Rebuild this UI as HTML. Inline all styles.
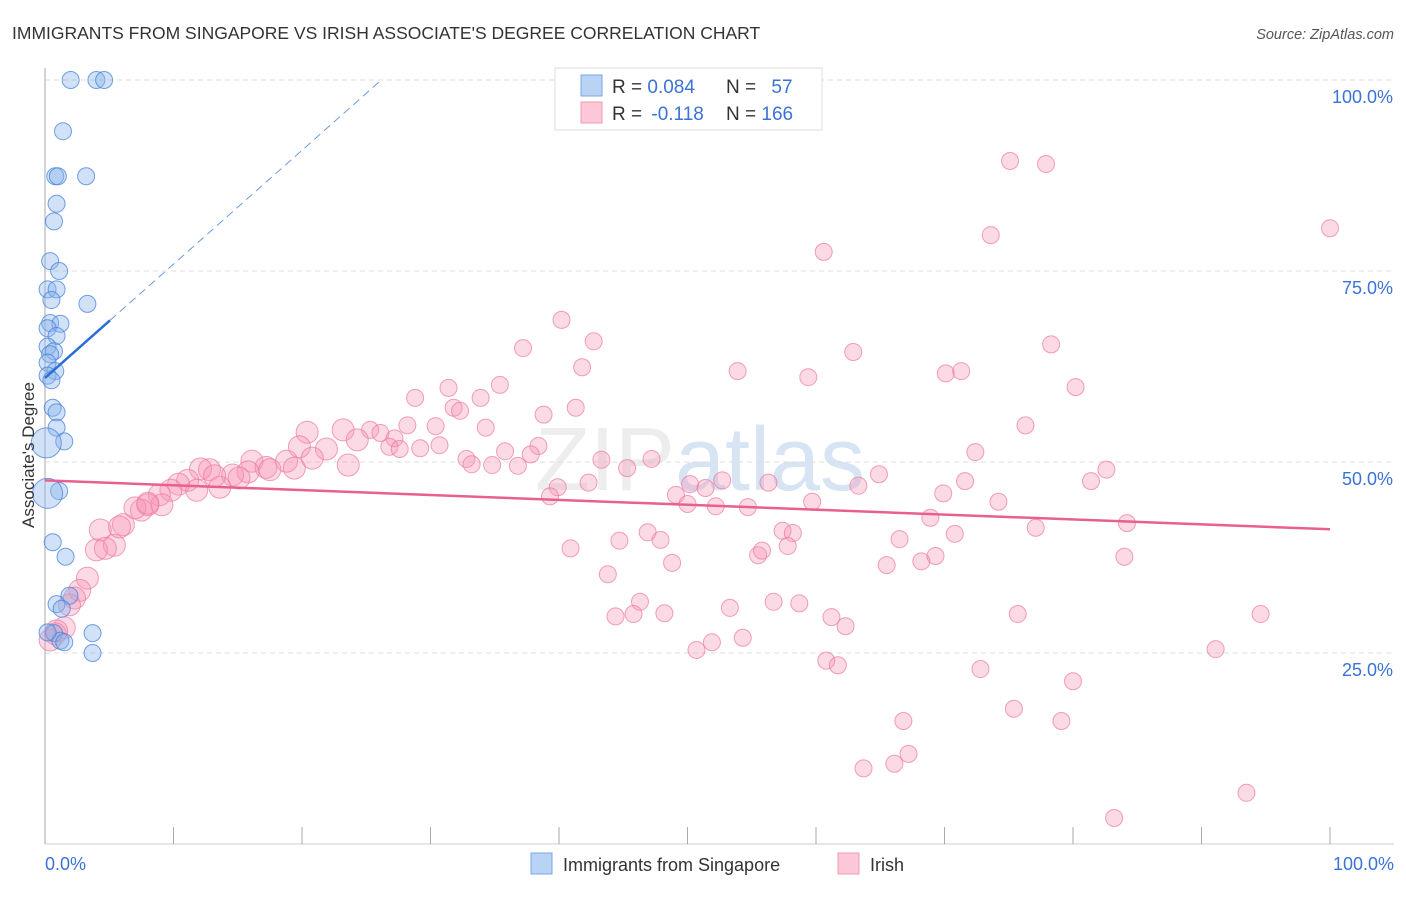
<!DOCTYPE html>
<html><head><meta charset="utf-8"><style>
body{margin:0;background:#fff;font-family:"Liberation Sans",sans-serif;}
svg text{font-family:"Liberation Sans",sans-serif;}
</style></head><body>
<svg width="1406" height="892" id="c">
<text x="12" y="39" font-size="17.5" fill="#333">IMMIGRANTS FROM SINGAPORE VS IRISH ASSOCIATE'S DEGREE CORRELATION CHART</text>
<text x="1394" y="39" font-size="14.5" fill="#555" font-style="italic" text-anchor="end">Source: ZipAtlas.com</text>
<text x="700" y="490" font-size="90" fill="#ccc" opacity="0.35" text-anchor="middle" font-family="Liberation Serif">ZIP<tspan font-family="Liberation Sans" fill="#8fb4e0">atlas</tspan></text>
<g id="grid"></g><g id="axes"></g><g id="pts"></g><g id="trend"></g>
<text transform="translate(34,455) rotate(-90)" font-size="17" fill="#333" text-anchor="middle">Associate's Degree</text>
<g>
<rect x="555" y="68" width="267" height="62" fill="#fff" stroke="#ddd"/>
<rect x="581" y="75" width="21" height="21" fill="#b9d3f5" stroke="#7aa6e6"/>
<rect x="581" y="102" width="21" height="21" fill="#fcc8d7" stroke="#f09ab3"/>
<text x="612" y="93" font-size="19" fill="#333">R = <tspan fill="#3a72d6">0.084</tspan></text>
<text x="726" y="93" font-size="19" fill="#333">N = <tspan fill="#3a72d6" dx="10">57</tspan></text>
<text x="612" y="120" font-size="19" fill="#333">R = <tspan fill="#3a72d6" dx="4">-0.118</tspan></text>
<text x="726" y="120" font-size="19" fill="#333">N = <tspan fill="#3a72d6">166</tspan></text>
</g>
<g>
<rect x="531" y="853" width="21" height="21" fill="#b9d3f5" stroke="#7aa6e6"/>
<text x="563" y="871" font-size="18" fill="#333">Immigrants from Singapore</text>
<rect x="838" y="853" width="21" height="21" fill="#fcc8d7" stroke="#f09ab3"/>
<text x="870" y="871" font-size="18" fill="#333">Irish</text>
</g>
</svg>
<script>
const blueX=[2.0,4.0,4.6,1.4,0.8,1.0,3.2,0.9,0.7,0.4,1.1,0.2,0.9,0.5,3.3,0.4,1.2,0.2,0.9,0.2,0.7,0.4,0.2,0.8,0.2,0.5,0.6,0.9,0.9,1.5,0.1,1.1,0.2,0.6,1.6,1.9,0.9,1.3,0.7,1.2,3.7,3.7,1.5,0.2];
const blueY=[100,100,100,93.3,87.4,87.4,87.4,83.8,81.5,76.3,75.0,72.6,72.6,71.2,70.7,68.2,68.1,67.5,66.5,65.1,64.5,64.1,63.0,61.9,61.3,60.7,57.1,56.5,54.5,52.7,52.5,46.2,45.9,39.5,37.6,32.5,31.4,30.8,27.6,26.6,27.6,25.0,26.4,27.7];
const blueBig=[30,32];
const pinkX=[75.1,77.9,100,60.6,73.6,40.2,42.7,37.2,41.8,62.9,53.9,59.4,70.1,71.3,78.3,80.2,28.8,31.4,35.4,33.9,31.8,32.3,38.8,41.3,34.3,30.4,28.2,20.4,23.2,25.3,26.1,27.2,30.7,19.8,21.9,24.3,26.8,29.2,27.6,38.4,35.8,37.8,32.8,34.8,36.8,43.3,47.2,45.3,33.2,23.6,16.1,17.2,18.8,19.4,20.8,15.8,17.5,14.6,15.1,12.8,12.1,13.6,13.2,11.1,10.4,11.8,9.8,8.9,9.1,8.0,7.5,7.0,6.1,4.3,5.4,4.0,4.7,3.3,2.7,2.3,1.9,1.5,0.8,0.4,64.9,63.3,56.3,52.7,50.2,49.1,50.0,51.4,52.2,54.7,59.7,39.9,39.3,42.3,72.4,71.6,69.9,74.2,76.3,82.6,81.4,84.2,84.0,68.9,66.5,70.8,77.1,57.4,58.2,55.5,55.8,57.8,46.9,47.9,44.7,40.9,48.8,43.8,65.5,68.2,69.3,46.3,44.4,45.8,48.2,53.3,56.7,58.7,61.2,62.3,75.7,94.6,50.7,51.9,54.3,60.8,61.7,72.8,91.1,80.0,66.8,75.4,79.1,67.2,66.1,63.7,93.5,83.2,8.0,5.8,0.9];
const pinkY=[89.4,89.0,80.6,77.5,79.7,68.6,65.8,64.9,62.4,64.4,61.9,61.1,61.6,61.9,65.4,59.8,58.4,59.7,60.1,58.4,57.1,56.7,56.2,57.1,54.5,54.7,54.8,53.9,54.2,54.2,53.8,53.1,52.2,52.0,51.7,52.9,52.0,51.8,51.7,52.1,51.4,51.0,50.4,49.6,49.5,50.3,50.4,49.2,49.7,49.6,50.1,49.3,50.1,49.2,50.5,48.7,49.0,48.3,47.9,49.0,49.1,46.7,48.2,47.6,47.1,46.3,46.3,45.7,44.4,44.4,43.7,44.0,41.8,41.1,39.1,38.5,38.7,34.8,33.2,32.2,31.3,28.3,27.5,26.7,48.4,46.9,47.3,47.6,47.1,45.7,44.5,46.6,44.2,44.1,44.8,46.7,45.5,47.3,51.3,47.5,45.9,44.8,54.8,49.0,47.5,42.0,37.6,42.7,39.9,40.6,41.4,41.0,40.7,37.8,38.4,39.0,40.8,39.8,39.7,38.7,36.8,35.3,36.5,37.0,37.7,31.7,29.8,30.1,30.2,30.9,31.7,31.5,29.7,28.5,30.1,30.1,25.4,26.4,27.0,24.0,23.4,22.9,25.5,21.3,16.1,17.7,16.1,11.8,10.5,9.9,6.7,3.4,44.6,41.5,27.9];
const yTicks=[25,50,75,100];
const yTickLabels=["25.0%","50.0%","75.0%","100.0%"];
const xTickLabels=["0.0%","100.0%"];
const pinkTrend=[47.6,41.2];
const blueTrend=[61.0,1.49];
const NS='http://www.w3.org/2000/svg';
const X=v=>45+v*12.85, Y=v=>844-v*7.64;
function mk(p,t,a){const e=document.createElementNS(NS,t);for(const k in a)e.setAttribute(k,a[k]);p.appendChild(e);return e;}
const grid=document.getElementById('grid'),axes=document.getElementById('axes'),pts=document.getElementById('pts'),tr=document.getElementById('trend');
yTicks.forEach((t,i)=>{
 const l=mk(grid,'line',{x1:45,x2:1394,y1:Y(t),y2:Y(t),stroke:'#ddd','stroke-dasharray':'5,4'});
 
 
 const tx=mk(axes,'text',{x:1393,y:Y(t)+23,'font-size':18,fill:'#3a72d6','text-anchor':'end'});
 tx.textContent=yTickLabels[i];
 
 
});
const ax=mk(axes,'line',{x1:45,x2:45,y1:68,y2:844,stroke:'#aaa'});


const bx=mk(axes,'line',{x1:45,x2:1394,y1:844,y2:844,stroke:'#ccc'});


for(let i=0;i<=10;i++){const t=mk(axes,'line',{x1:X(i*10),x2:X(i*10),y1:827,y2:844,stroke:'#aaa'});
 
 }
[[0,'start',45],[100,'end',1394]].forEach((d,i)=>{const t=mk(axes,'text',{x:d[2],y:870,'font-size':18,fill:'#3a72d6','text-anchor':d[1]});t.textContent=xTickLabels[i];
 
 });
pinkX.forEach((v,i)=>{const r=v<25?11:8.5;const c=mk(pts,'circle',{cx:X(v),cy:Y(pinkY[i]),r:r,fill:'rgba(246,150,180,0.35)',stroke:'rgba(236,120,160,0.7)','stroke-width':1});
 
 });
blueX.forEach((v,i)=>{const r=blueBig.includes(i)?15:8.5;const c=mk(pts,'circle',{cx:X(v),cy:Y(blueY[i]),r:r,fill:'rgba(140,180,235,0.4)',stroke:'rgba(70,130,220,0.75)','stroke-width':1});
 
 });
const pl=mk(tr,'line',{x1:X(0),y1:Y(pinkTrend[0]),x2:X(100),y2:Y(pinkTrend[1]),stroke:'#e8608f','stroke-width':2.5});


const bl=mk(tr,'line',{x1:X(0),y1:Y(blueTrend[0]),x2:X(5.06),y2:Y(blueTrend[0]+blueTrend[1]*5.06),stroke:'#2a6fd6','stroke-width':2.5});


const xe=(100-blueTrend[0])/blueTrend[1];
const bd=mk(tr,'line',{x1:X(5.06),y1:Y(blueTrend[0]+blueTrend[1]*5.06),x2:X(xe),y2:Y(100),stroke:'#6a9be0','stroke-width':1,'stroke-dasharray':'8,5'});


</script>
</body></html>
